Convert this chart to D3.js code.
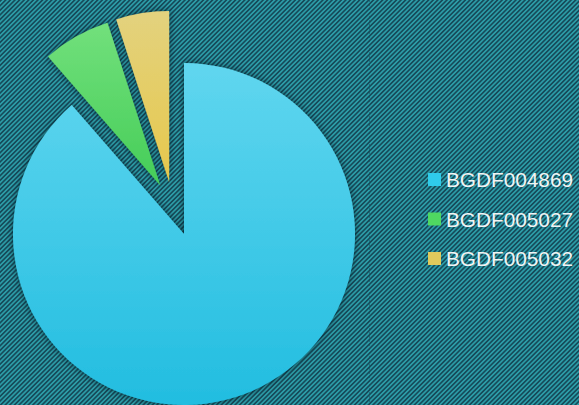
<!DOCTYPE html>
<html><head><meta charset="utf-8">
<script src="https://cdn.jsdelivr.net/npm/d3@7"></script>
<style>html,body{margin:0;padding:0;overflow:hidden;background:#1f7080}</style>
</head><body>
<script>
const categories = ["BGDF004869", "BGDF005027", "BGDF005032"];
const values = [88.6, 6.4, 5.0];
const colorsTop = ["#60d6ef", "#72e07c", "#e3d27e"];
const colorsBottom = ["#22bde0", "#45cd58", "#e6c84c"];
const legendColors = ["#2fcbea", "#4fd861", "#e0c95c"];
// explode style: distance and direction (degrees clockwise from 12 o'clock)
const explodeDist = [0, 54, 54];
const explodeDir = [0, -26, -16];

const W = 579, H = 405;
const svg = d3.select("body").append("svg").attr("width", W).attr("height", H);
const defs = svg.append("defs");

// striped background
const P = 3.25;
const pat = defs.append("pattern").attr("id", "stripes").attr("patternUnits", "userSpaceOnUse")
  .attr("width", P).attr("height", 10).attr("patternTransform", "rotate(45)");
pat.append("rect").attr("width", P).attr("height", 10).attr("fill", "#2c9ca7");
pat.append("rect").attr("width", P / 2).attr("height", 10).attr("fill", "#164b5a");
svg.append("rect").attr("width", W).attr("height", H).attr("fill", "url(#stripes)");
svg.append("line").attr("x1", 369.5).attr("x2", 369.5).attr("y1", 0).attr("y2", H)
  .attr("stroke", "#164b5a").attr("stroke-width", 1).attr("stroke-dasharray", "2,2").attr("opacity", 0.5);

// shadow
const f = defs.append("filter").attr("id", "shadow").attr("x", "-20%").attr("y", "-20%").attr("width", "140%").attr("height", "140%");
f.append("feDropShadow").attr("dx", 0).attr("dy", 0).attr("stdDeviation", 3)
  .attr("flood-color", "#06222c").attr("flood-opacity", 0.8);

const cx = 184, cy = 234, r = 171;
values.forEach((v, i) => {
  const g = defs.append("linearGradient").attr("id", "grad" + i)
    .attr("x1", 0).attr("y1", 0).attr("x2", 0).attr("y2", 1);
  g.append("stop").attr("offset", "0%").attr("stop-color", colorsTop[i]);
  g.append("stop").attr("offset", "100%").attr("stop-color", colorsBottom[i]);
});

const pie = d3.pie().sort(null).value(d => d);
const arc = d3.arc().innerRadius(0).outerRadius(r);
const arcs = pie(values);

const gPie = svg.append("g").attr("transform", `translate(${cx},${cy})`);
gPie.selectAll("path").data(arcs).join("path")
  .attr("d", arc)
  .attr("fill", (d, i) => `url(#grad${i})`)
  .attr("filter", "url(#shadow)")
  .attr("transform", (d, i) => {
    const a = explodeDir[i] * Math.PI / 180;
    return `translate(${explodeDist[i] * Math.sin(a)},${-explodeDist[i] * Math.cos(a)})`;
  });

// legend
const leg = svg.append("g").attr("transform", "translate(428,173)");
const rows = leg.selectAll("g").data(categories).join("g")
  .attr("transform", (d, i) => `translate(0,${i * 39.5})`);
rows.append("rect").attr("width", 13).attr("height", 13).attr("fill", (d, i) => legendColors[i]);
rows.append("text").attr("x", 18).attr("y", 14).text(d => d)
  .attr("font-family", "Liberation Sans, Arial, sans-serif").attr("font-size", 21)
  .attr("textLength", 127).attr("lengthAdjust", "spacingAndGlyphs")
  .attr("fill", "#f2f4f4");
</script>
</body></html>
